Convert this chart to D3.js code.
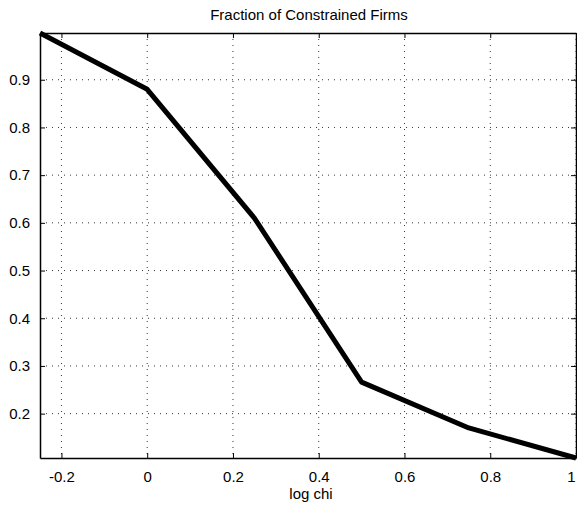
<!DOCTYPE html>
<html>
<head>
<meta charset="utf-8">
<script src="https://cdn.jsdelivr.net/npm/d3@7/dist/d3.min.js"></script>
<style>
  html, body { margin: 0; padding: 0; background: #fff; }
  svg { display: block; }
  text { font-family: "Liberation Sans", Arial, Helvetica, sans-serif; fill: #000; }
</style>
</head>
<body>
<script>
// Fraction of constrained firms against log chi
const logChi = [-0.25, 0, 0.25, 0.5, 0.75, 1];
const fraction = [0.998, 0.88, 0.61, 0.266, 0.17, 0.107];
const xTicks = [-0.2, 0, 0.2, 0.4, 0.6, 0.8, 1];
const yTicks = [0.2, 0.3, 0.4, 0.5, 0.6, 0.7, 0.8, 0.9];
const xTickLabels = ["-0.2", "0", "0.2", "0.4", "0.6", "0.8", "1"];
const yTickLabels = ["0.2", "0.3", "0.4", "0.5", "0.6", "0.7", "0.8", "0.9"];

const W = 577, H = 506;
const m = { left: 40, right: 1, top: 33, bottom: 48 };
const iw = W - m.left - m.right, ih = H - m.top - m.bottom;

const svg = d3.select("body").append("svg").attr("width", W).attr("height", H);
const g = svg.append("g").attr("transform", `translate(${m.left},${m.top})`);

const x = d3.scaleLinear().domain([-0.25, 1]).range([0, iw]);
const y = d3.scaleLinear().domain(d3.extent(fraction)).range([ih, 0]);

// dotted grid
g.append("g").selectAll("line").data(xTicks).join("line")
  .attr("x1", d => x(d)).attr("x2", d => x(d)).attr("y1", 0).attr("y2", ih)
  .attr("stroke", "#000").attr("stroke-width", 0.8).attr("stroke-dasharray", "1,5");
g.append("g").selectAll("line").data(yTicks).join("line")
  .attr("y1", d => y(d)).attr("y2", d => y(d)).attr("x1", 0).attr("x2", iw)
  .attr("stroke", "#000").attr("stroke-width", 0.8).attr("stroke-dasharray", "1,5");

// axes with inward ticks on all four sides
const fmtX = (d, i) => xTickLabels[i];
const fmtY = (d, i) => yTickLabels[i];
const bottom = g.append("g").attr("transform", `translate(0,${ih})`)
  .call(d3.axisBottom(x).tickValues(xTicks).tickFormat(fmtX).tickSizeInner(-5).tickSizeOuter(0).tickPadding(13));
const left = g.append("g")
  .call(d3.axisLeft(y).tickValues(yTicks).tickFormat(fmtY).tickSizeInner(-5).tickSizeOuter(0).tickPadding(10));
g.append("g")
  .call(d3.axisTop(x).tickValues(xTicks).tickFormat("").tickSizeInner(-5).tickSizeOuter(0));
g.append("g").attr("transform", `translate(${iw},0)`)
  .call(d3.axisRight(y).tickValues(yTicks).tickFormat("").tickSizeInner(-5).tickSizeOuter(0));

svg.selectAll(".domain").attr("stroke", "#000").attr("stroke-width", 1.5);
svg.selectAll(".tick line").attr("stroke", "#000").attr("stroke-width", 1);
svg.selectAll(".tick text").style("font-size", "15px")
  .style("font-family", "'Liberation Sans', Arial, Helvetica, sans-serif");
// keep the last x label inside the page edge
bottom.selectAll(".tick text").filter((d, i) => i === xTicks.length - 1)
  .attr("text-anchor", "end").attr("dx", "-1");

// data line
const line = d3.line().x((d, i) => x(logChi[i])).y(d => y(d));
g.append("path").datum(fraction)
  .attr("d", line)
  .attr("fill", "none").attr("stroke", "#000").attr("stroke-width", 5)
  .attr("stroke-linejoin", "round");

// title and axis label
svg.append("text").attr("x", m.left + iw / 2 + 1).attr("y", 20)
  .attr("text-anchor", "middle").style("font-size", "15px")
  .text("Fraction of Constrained Firms");
svg.append("text").attr("x", m.left + iw / 2 + 3).attr("y", 499)
  .attr("text-anchor", "middle").style("font-size", "15px")
  .text("log chi");
</script>
</body>
</html>
